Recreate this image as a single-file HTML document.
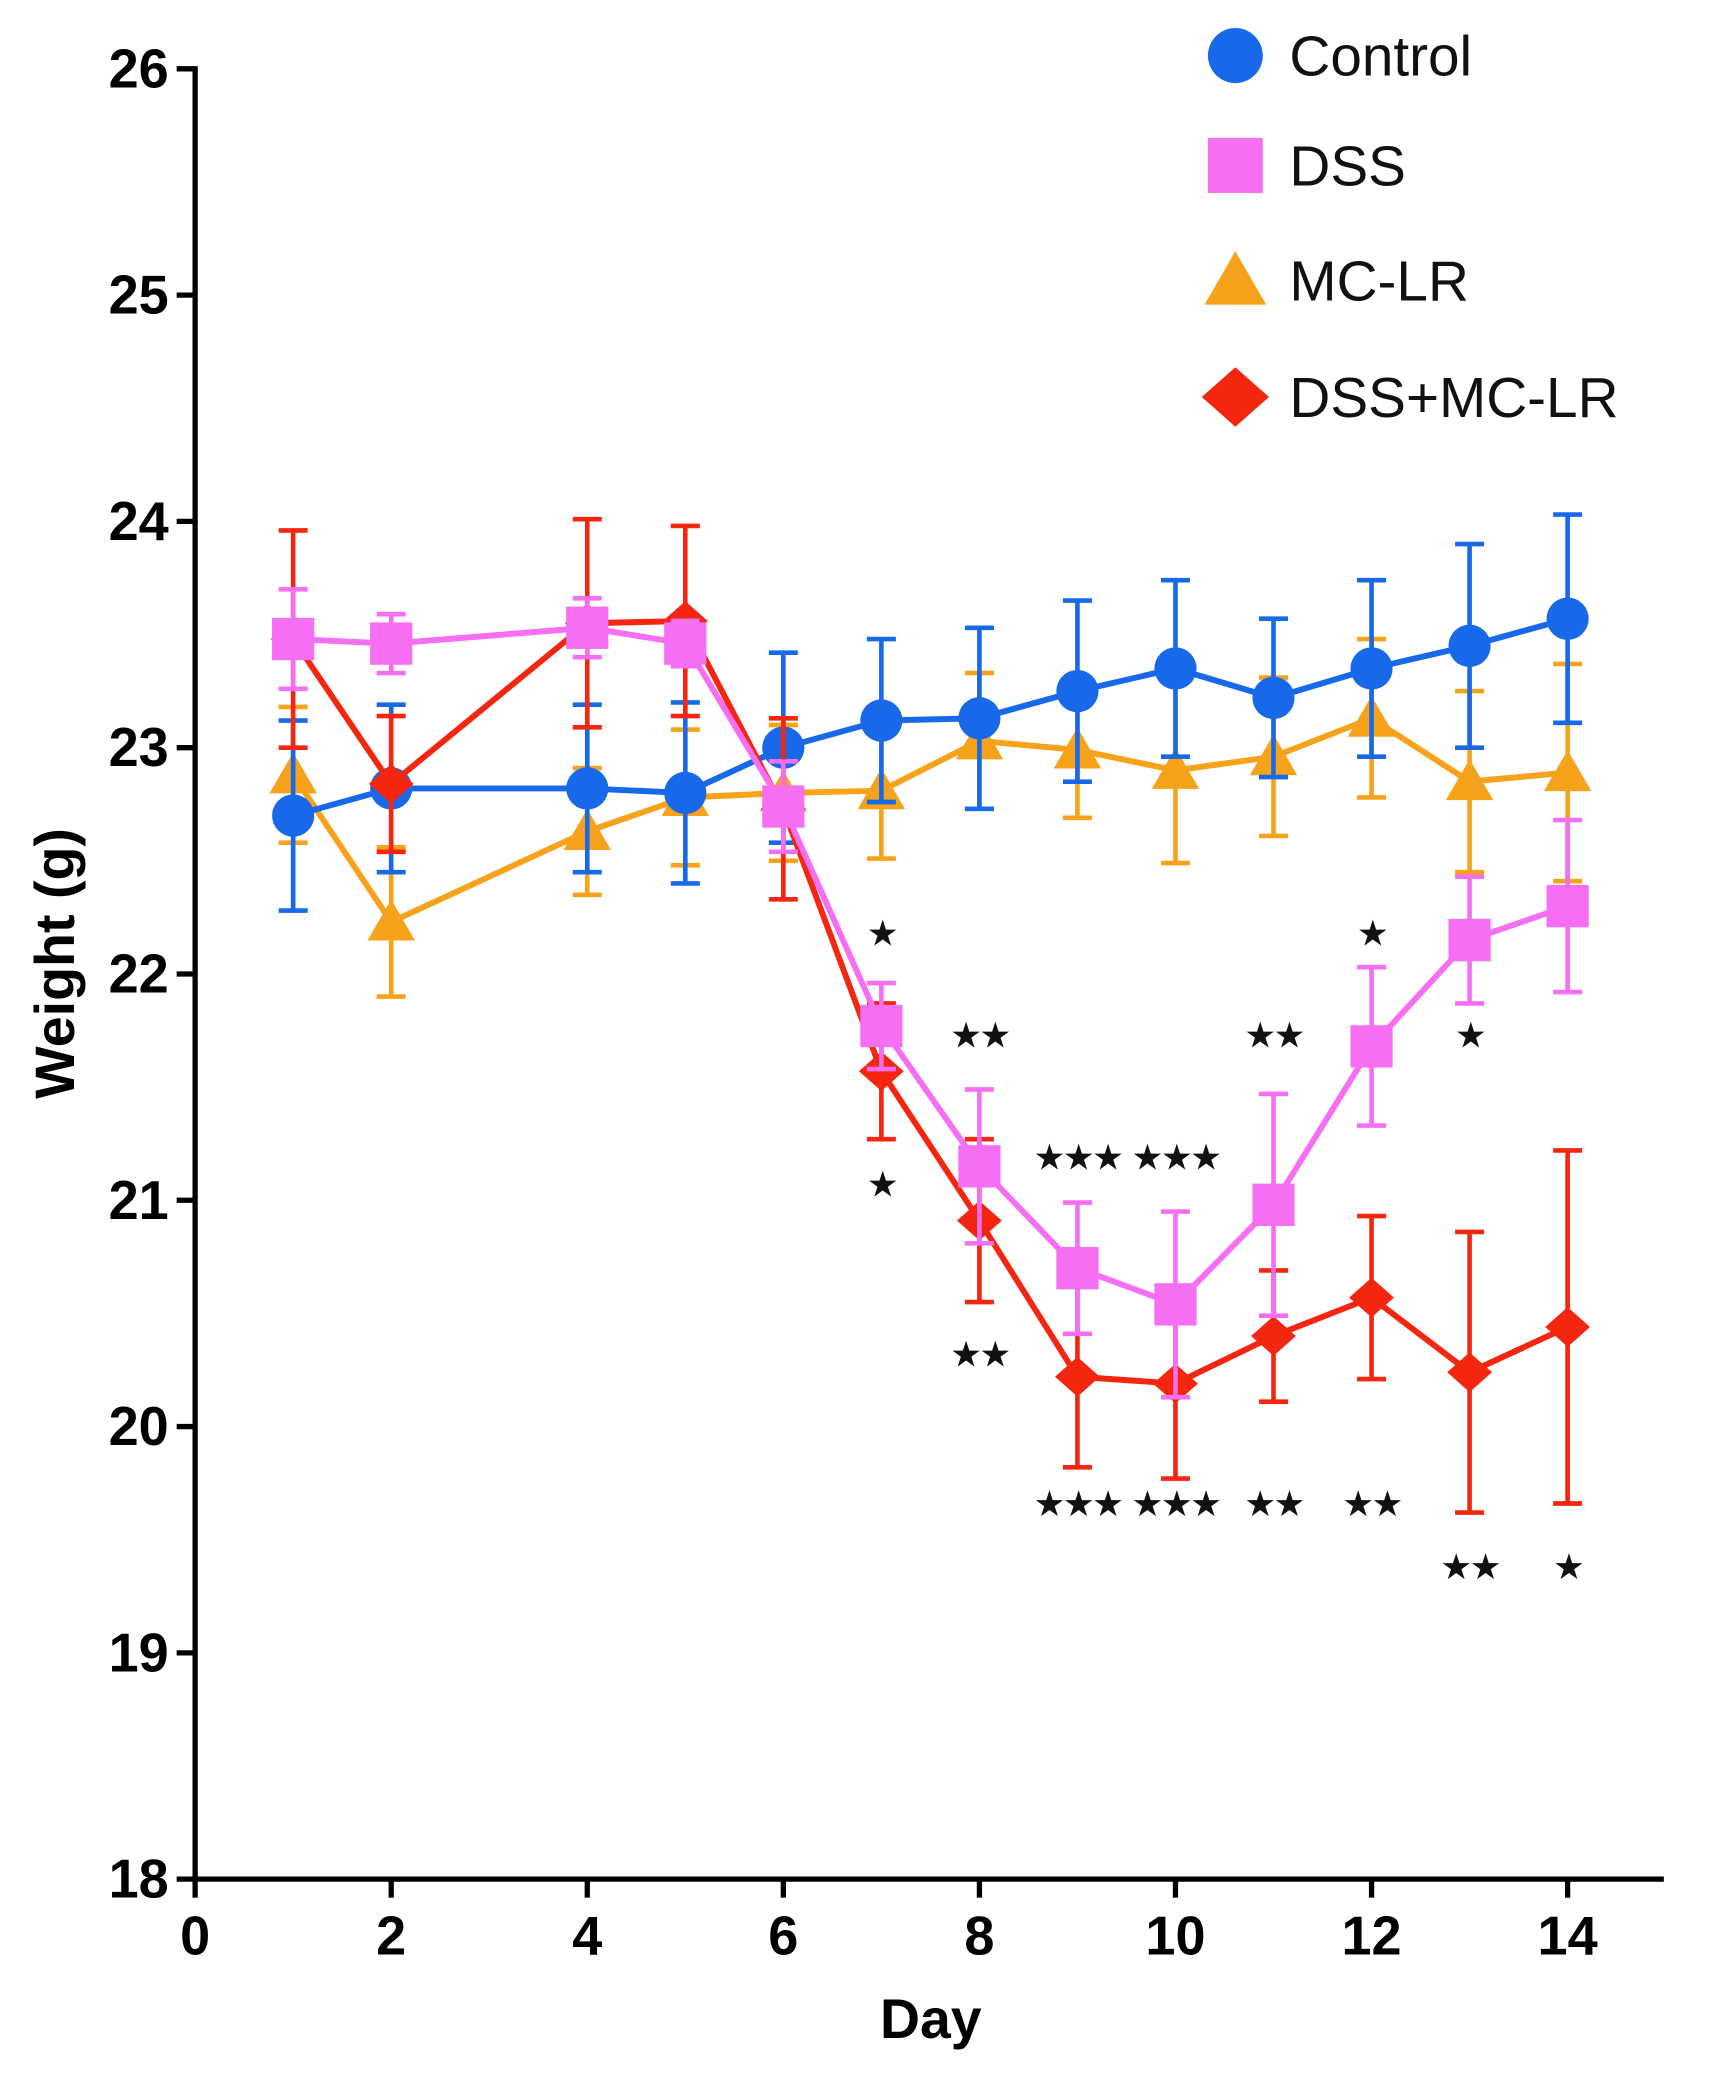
<!DOCTYPE html>
<html><head><meta charset="utf-8"><style>
html,body{margin:0;padding:0;background:#fff;}
svg{display:block;}
text{font-family:"Liberation Sans",Arial,sans-serif;}
</style></head><body>
<svg id="chart" width="1710" height="2075" viewBox="0 0 1297 1568" preserveAspectRatio="none" xmlns="http://www.w3.org/2000/svg">
<g id="axes"></g>
<g id="series"></g>
<g id="stars"></g>
<g id="legend"></g>
</svg>
<script>
const days = [1,2,4,5,6,7,8,9,10,11,12,13,14];
const controlVals = [22.70,22.82,22.82,22.80,23.00,23.12,23.13,23.25,23.35,23.22,23.35,23.45,23.57];
const controlErr  = [0.42,0.37,0.37,0.40,0.42,0.36,0.40,0.40,0.39,0.35,0.39,0.45,0.46];
const dssVals = [23.48,23.46,23.53,23.46,22.74,21.77,21.15,20.70,20.54,20.98,21.68,22.15,22.30];
const dssErr  = [0.22,0.13,0.13,0.10,0.20,0.19,0.34,0.29,0.41,0.49,0.35,0.28,0.38];
const mclrVals = [22.88,22.23,22.63,22.78,22.80,22.81,23.03,22.99,22.90,22.96,23.13,22.85,22.89];
const mclrErr  = [0.30,0.33,0.28,0.30,0.30,0.30,0.30,0.30,0.41,0.35,0.35,0.40,0.48];
const comboVals = [23.48,22.84,23.55,23.56,22.73,21.57,20.91,20.22,20.19,20.40,20.57,20.24,20.44];
const comboErr  = [0.48,0.30,0.46,0.42,0.40,0.30,0.36,0.40,0.42,0.29,0.36,0.62,0.78];
const xTicks = [0,2,4,6,8,10,12,14];
const yTicks = [18,19,20,21,22,23,24,25,26];
const starDays = [7,7,8,8,9,9,10,10,11,11,12,12,13,13,14];
const starVals = [22.19,21.08,21.74,20.33,21.20,19.67,21.20,19.67,21.74,19.67,22.19,19.67,21.74,19.39,19.39];
const starText = ["*","*","**","**","***","***","***","***","**","**","*","**","*","**","*"];

const NS="http://www.w3.org/2000/svg";
const X0=148,XS=(1189-148)/14,Y0=1420,YS=(1420-52)/8;
const xs=d=>X0+d*XS, ys=v=>Y0-(v-18)*YS;
function mk(p,t,a){const e=document.createElementNS(NS,t);for(const k in a)e.setAttribute(k,a[k]);p.appendChild(e);return e;}
const axes=document.getElementById('axes');
let e;
e=mk(axes,'line',{x1:X0,y1:50,x2:X0,y2:Y0,stroke:'#000','stroke-width':4});


e=mk(axes,'line',{x1:X0,y1:Y0,x2:1262,y2:Y0,stroke:'#000','stroke-width':4});


yTicks.forEach(v=>{
  mk(axes,'line',{x1:X0-14,y1:ys(v),x2:X0,y2:ys(v),stroke:'#000','stroke-width':4});
  const t=mk(axes,'text',{x:X0-20,y:ys(v)+14,'text-anchor':'end','font-size':41,'font-weight':'bold'});
  t.textContent=v;
  
  
});
xTicks.forEach(d=>{
  mk(axes,'line',{x1:xs(d),y1:Y0,x2:xs(d),y2:Y0+14,stroke:'#000','stroke-width':4});
  const t=mk(axes,'text',{x:xs(d),y:Y0+57,'text-anchor':'middle','font-size':41,'font-weight':'bold'});
  t.textContent=d;
  
  
});
e=mk(axes,'text',{x:706,y:1540,'text-anchor':'middle','font-size':42,'font-weight':'bold'});
e.textContent='Day';


e=mk(axes,'text',{x:0,y:0,'text-anchor':'middle','font-size':42,'font-weight':'bold',transform:'translate(56,728) rotate(-90)'});
e.textContent='Weight (g)';



function marker(p,shape,x,y,c,s){
  if(shape==='circle')return mk(p,'circle',{cx:x,cy:y,r:16*s,fill:c});
  if(shape==='square')return mk(p,'rect',{x:x-16*s,y:y-16*s,width:32*s,height:32*s,fill:c});
  if(shape==='triangle')return mk(p,'polygon',{points:`${x},${y-17*s} ${x+18*s},${y+14*s} ${x-18*s},${y+14*s}`,fill:c});
  return mk(p,'polygon',{points:`${x},${y-15*s} ${x+17*s},${y} ${x},${y+15*s} ${x-17*s},${y}`,fill:c});
}
const seriesG=document.getElementById('series');
const defs=[
 ['mc-lr',mclrVals,mclrErr,'#f7a21b','triangle'],
 ['control',controlVals,controlErr,'#1769ea','circle'],
 ['dss-mc-lr',comboVals,comboErr,'#f5260f','diamond'],
 ['dss',dssVals,dssErr,'#f66ef2','square']
];
defs.forEach(([name,vals,err,col,shape])=>{
  const g=mk(seriesG,'g',{});
  
  
  days.forEach((d,i)=>{
    const x=xs(d),t=ys(vals[i]+err[i]),b=ys(vals[i]-err[i]);
    const eb=mk(g,'path',{d:`M${x},${t}V${b}M${x-11},${t}H${x+11}M${x-11},${b}H${x+11}`,stroke:col,'stroke-width':3.5,fill:'none'});
    
    
  });
  const ln=mk(g,'polyline',{points:days.map((d,i)=>xs(d)+','+ys(vals[i])).join(' '),stroke:col,'stroke-width':4.5,fill:'none'});
  
  
  days.forEach((d,i)=>{
    const m=marker(g,shape,xs(d),ys(vals[i]),col,1);
    
    
  });
});
const starsG=document.getElementById('stars');
starDays.forEach((d,i)=>{
  const t=mk(starsG,'text',{x:xs(d),y:ys(starVals[i])+11,'text-anchor':'middle','font-size':27,'letter-spacing':-2,fill:'#111',style:'font-family:"DejaVu Sans",sans-serif'});
  t.textContent=starText[i].replace(/\*/g,'★');
  
  
});
const legG=document.getElementById('legend');
[['Control','circle','#1769ea',42],['DSS','square','#f66ef2',125],['MC-LR','triangle','#f7a21b',212],['DSS+MC-LR','diamond','#f5260f',300]].forEach(([lab,sh,c,y])=>{
  const g=mk(legG,'g',{});
  
  
  const s=sh==='diamond'?1.5:1.3;
  marker(g,sh,937,y,c,s);
  const t=mk(g,'text',{x:978,y:y+15,'font-size':43,fill:'#111'});
  t.textContent=lab;
});
</script>
</body></html>
